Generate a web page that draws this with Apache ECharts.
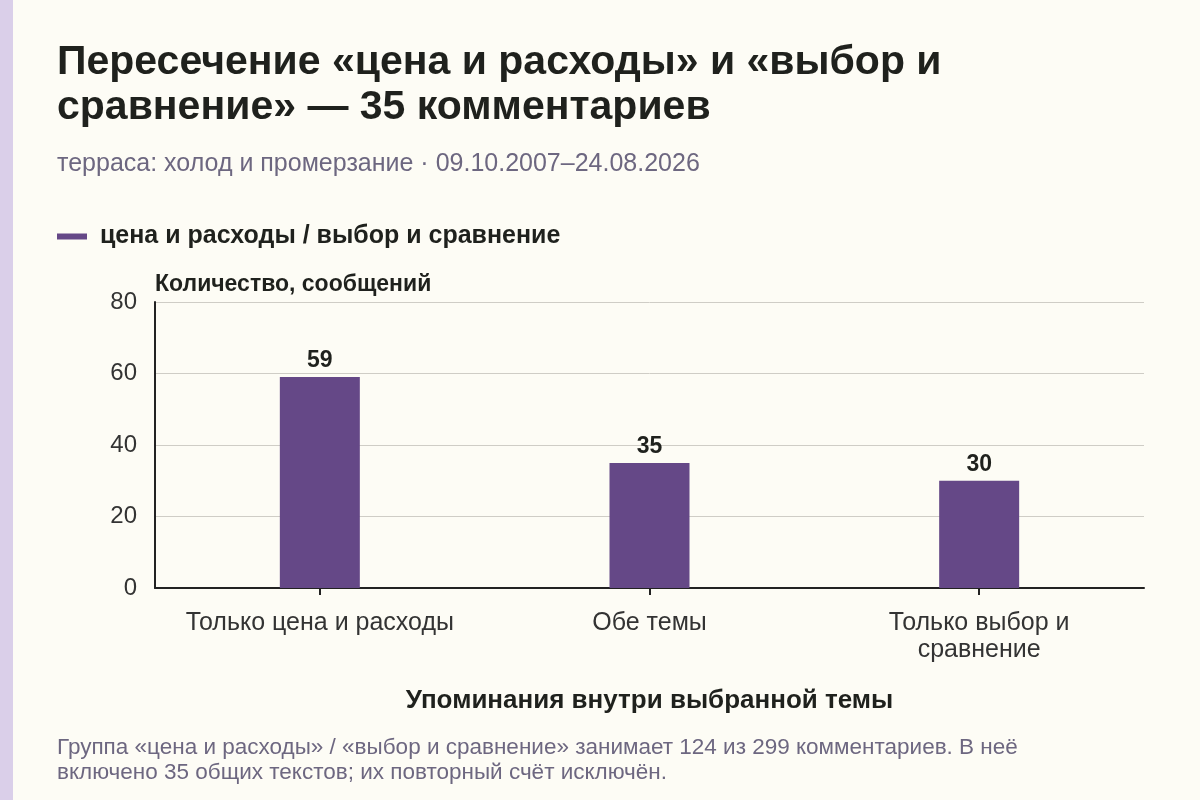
<!DOCTYPE html>
<html>
<head>
<meta charset="utf-8">
<script src="https://cdn.jsdelivr.net/npm/echarts@6/dist/echarts.min.js"></script>
<style>
  html, body { margin: 0; padding: 0; background: #fdfcf5; }
  #stripe { position: absolute; left: 0; top: 0; width: 13px; height: 800px; background: #dacfe9; }
  #chart { position: absolute; left: 0; top: 0; width: 1200px; height: 800px; }
</style>
</head>
<body>
<div id="stripe"></div>
<div id="chart"></div>
<script>
const categories = ['Только цена и расходы', 'Обе темы', 'Только выбор и\nсравнение']
const counts = [59, 35, 30]
const seriesName = 'цена и расходы / выбор и сравнение'
const yTicks = { min: 0, max: 80, interval: 20 }

const font = '"Liberation Sans", Arial, sans-serif'
const chart = echarts.init(document.getElementById('chart'))

chart.setOption({
  textStyle: { fontFamily: font },
  title: [
    {
      text: 'Пересечение «цена и расходы» и «выбор и\nсравнение» — 35 комментариев',
      left: 52,
      top: 35,
      textStyle: { fontSize: 41, fontWeight: 'bold', color: '#1f211d', lineHeight: 45, fontFamily: font }
    },
    {
      text: 'терраса: холод и промерзание · 09.10.2007–24.08.2026',
      left: 52,
      top: 147,
      textStyle: { fontSize: 25, fontWeight: 'normal', color: '#6d6780', fontFamily: font }
    }
  ],
  legend: {
    left: 52,
    top: 219,
    icon: 'rect',
    itemWidth: 30,
    itemHeight: 6,
    itemGap: 14,
    textStyle: { fontSize: 25, fontWeight: 'bold', color: '#1f211d', padding: [0, 0, 0, 8], fontFamily: font },
    data: [seriesName]
  },
  grid: { left: 155, right: 56, top: 302, bottom: 212 },
  xAxis: {
    type: 'category',
    data: categories,
    name: 'Упоминания внутри выбранной темы',
    nameLocation: 'middle',
    nameGap: 100,
    nameTextStyle: { fontSize: 26, fontWeight: 'bold', color: '#1f211d', fontFamily: font },
    axisLine: { show: true, lineStyle: { color: '#222', width: 2 } },
    axisTick: { show: true, alignWithLabel: true, interval: 0, length: 7, lineStyle: { color: '#222', width: 2 } },
    axisLabel: { interval: 0, fontSize: 25, color: '#333', margin: 22, lineHeight: 27, fontFamily: font }
  },
  yAxis: {
    type: 'value',
    min: yTicks.min,
    max: yTicks.max,
    interval: yTicks.interval,
    name: 'Количество, сообщений',
    nameLocation: 'end',
    nameGap: 6,
    nameTextStyle: { fontSize: 23, fontWeight: 'bold', color: '#1f211d', align: 'left', fontFamily: font },
    axisLine: { show: true, lineStyle: { color: '#222', width: 2 } },
    axisTick: { show: false },
    axisLabel: { fontSize: 24, color: '#333', margin: 18, fontFamily: font },
    splitLine: { lineStyle: { color: '#cfcdc6', width: 1 } }
  },
  series: [
    {
      name: seriesName,
      type: 'bar',
      data: counts,
      barWidth: 80,
      itemStyle: { color: '#654887' },
      label: {
        show: true,
        position: 'top',
        distance: 5,
        fontSize: 23,
        fontWeight: 'bold',
        color: '#1f211d',
        fontFamily: font
      }
    }
  ],
  graphic: [
    {
      type: 'text',
      left: 57,
      top: 735,
      style: {
        text: 'Группа «цена и расходы» / «выбор и сравнение» занимает 124 из 299 комментариев. В неё\nвключено 35 общих текстов; их повторный счёт исключён.',
        fontSize: 22.5,
        lineHeight: 25,
        fill: '#6d6780',
        fontFamily: font
      }
    }
  ]
})
</script>
</body>
</html>
